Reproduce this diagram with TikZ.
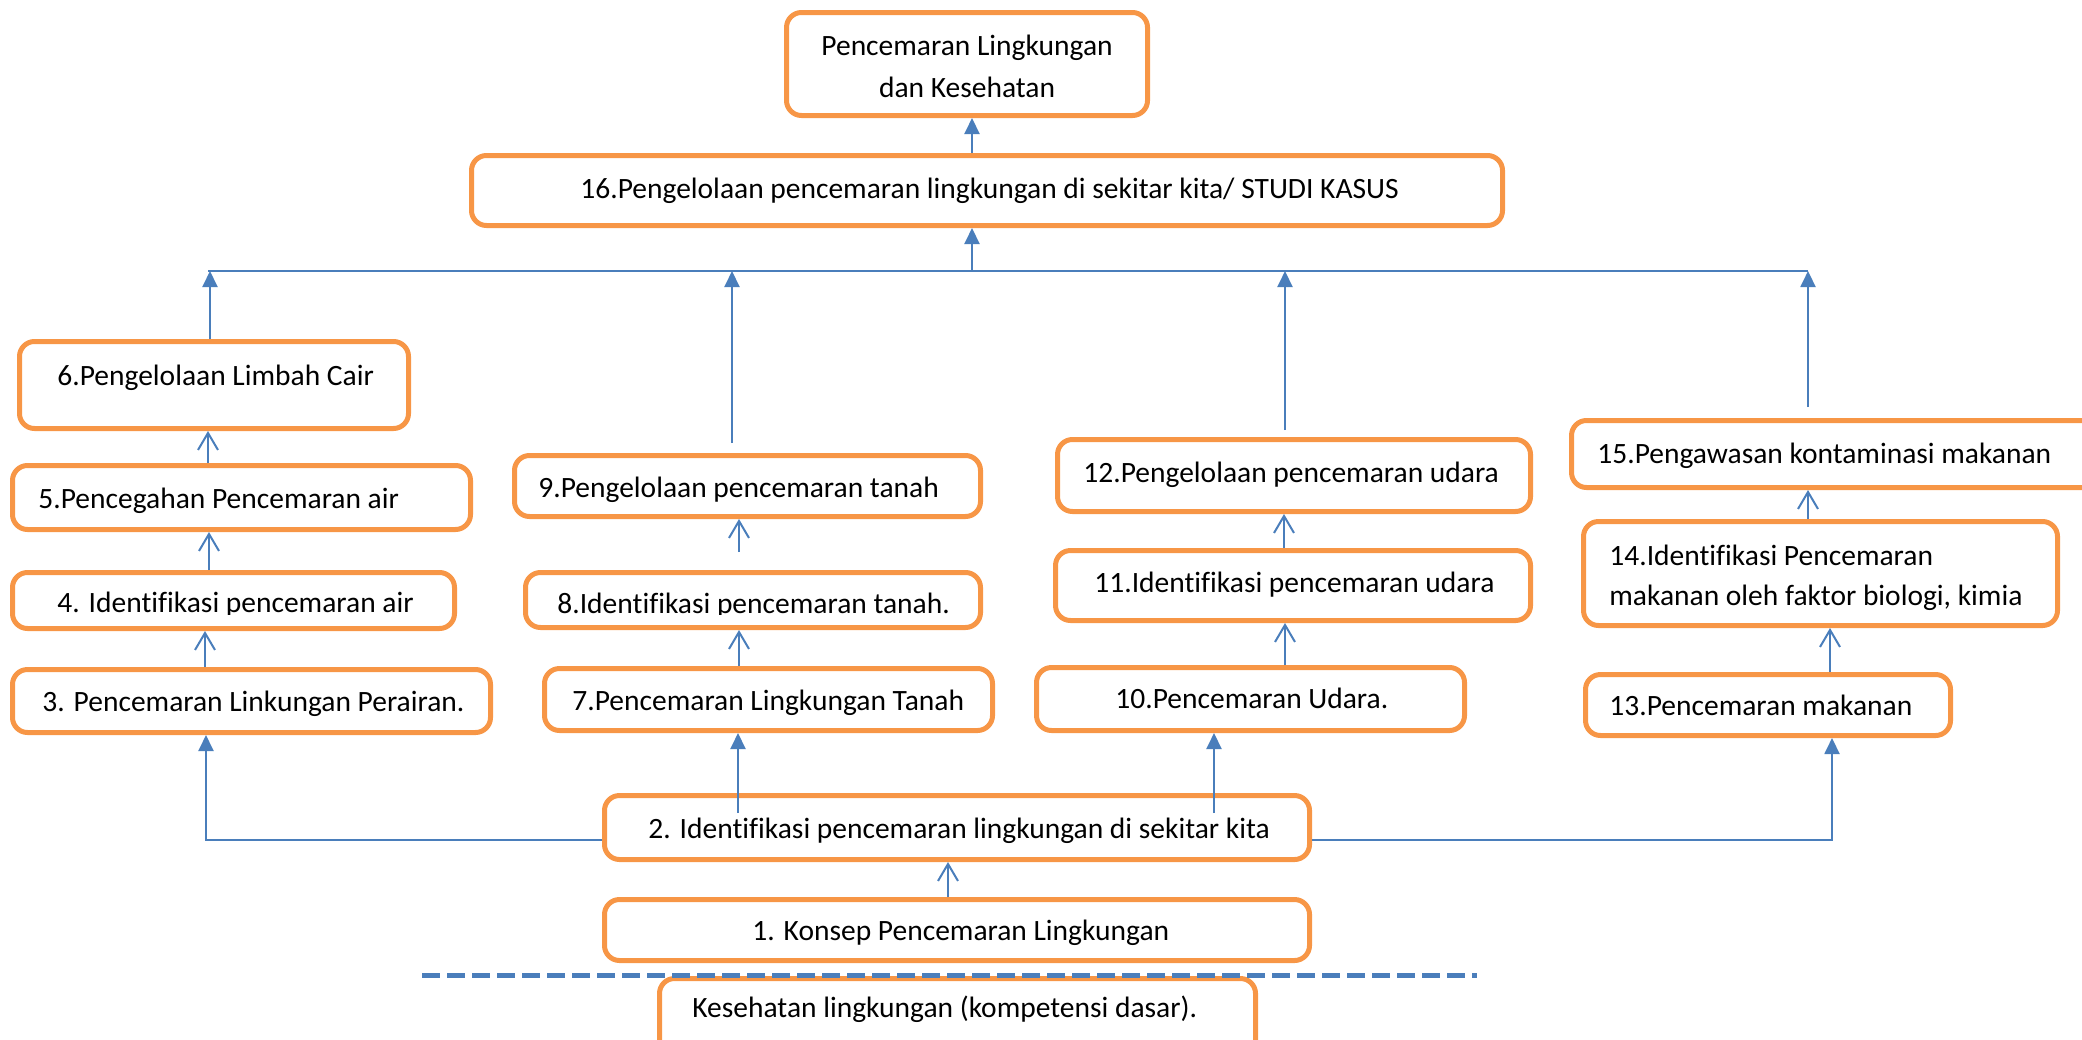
\documentclass[tikz,border=0pt]{standalone}
\usepackage{fontspec}
\setmainfont[Ligatures=NoCommon]{Carlito}
\usetikzlibrary{arrows.meta}
\definecolor{orng}{HTML}{F79646}
\definecolor{blu}{HTML}{4A7EBB}
\newcommand\mainfs{\fontsize{14.75pt}{17.8pt}\selectfont}
\tikzset{
  box/.style={draw=orng, line width=2.5pt, rounded corners=7.5pt, inner sep=0pt, minimum width=#1},
  txt/.style={inner sep=0pt, anchor=base west, font=\mainfs},
  ctxt/.style={inner sep=0pt, anchor=base, font=\mainfs},
  conn/.style={draw=blu, line width=1pt},
  oarrow/.style={draw=blu, line width=1pt, -{Straight Barb[length=8.5pt,width=10pt]}},
  farrow/.style={draw=blu, line width=1pt, -{Triangle[length=8pt,width=7.5pt]}},
}
\begin{document}
\begin{tikzpicture}[x=0.5pt,y=-0.5pt]
\useasboundingbox (0,0) rectangle (2082,1039);
\clip (0,0) rectangle (2082,1039);

% boxes
\node[box=180.5pt, minimum height=51.5pt] (top) at (967,64) {};
\node[box=515.5pt, minimum height=35pt] (b16) at (987,190.5) {};
\node[box=194.5pt, minimum height=43.5pt] (b6) at (214,385) {};
\node[box=229pt, minimum height=32pt] (b5) at (241.5,497.5) {};
\node[box=221pt, minimum height=28pt] (b4) at (233.5,600.5) {};
\node[box=239pt, minimum height=31.5pt] (b3) at (251.5,701) {};
\node[box=233pt, minimum height=30.5pt] (b9) at (747.5,486) {};
\node[box=227.5pt, minimum height=27.5pt] (b8) at (753,600) {};
\node[box=224pt, minimum height=31pt] (b7) at (768.5,699.5) {};
\node[box=236.5pt, minimum height=36pt] (b12) at (1294,475.5) {};
\node[box=237.5pt, minimum height=35pt] (b11) at (1293,585.5) {};
\node[box=214pt, minimum height=31.5pt] (b10) at (1250.5,699) {};
\node[box=270.5pt, minimum height=33.5pt] (b15) at (1842,454) {};
\node[box=237pt, minimum height=52pt] (b14) at (1820.5,573.5) {};
\node[box=182.5pt, minimum height=30.5pt] (b13) at (1768,705) {};
\node[box=352.5pt, minimum height=32pt] (b2) at (957,827.5) {};
\node[box=352.5pt, minimum height=30.5pt] (b1) at (957,930) {};
\node[box=298pt, minimum height=49.5pt] (bK) at (957.5,1028) {};

% texts
\node[ctxt] (t0a) at (967,55) {Pencemaran Lingkungan};
\node[ctxt] (t0b) at (967,97) {dan Kesehatan};
\node[txt] (t16) at (580,198) {16.Pengelolaan pencemaran lingkungan di sekitar kita/ STUDI KASUS};
\node[txt] (t6) at (57,385) {6.Pengelolaan Limbah Cair};
\node[txt] (t5) at (38,508) {5.Pencegahan Pencemaran air};
\begin{scope}
\clip (0,560) rectangle (1000,614);
\node[txt] (t4) at (57,612) {4. Identifikasi pencemaran air};
\node[txt] (t8) at (557,613) {8.Identifikasi pencemaran tanah.};
\end{scope}
\node[txt] (t3) at (42,711) {3. Pencemaran Linkungan Perairan.};
\node[txt] (t9) at (538,497) {9.Pengelolaan pencemaran tanah};
\node[txt] (t7) at (572,710) {7.Pencemaran Lingkungan Tanah};
\node[txt] (t12) at (1083,482) {12.Pengelolaan pencemaran udara};
\node[txt] (t11) at (1094,592) {11.Identifikasi pencemaran udara};
\node[txt] (t10) at (1115,708) {10.Pencemaran Udara.};
\node[txt] (t15) at (1597,463) {15.Pengawasan kontaminasi makanan};
\node[txt] (t14a) at (1609,565) {14.Identifikasi Pencemaran};
\node[txt] (t14b) at (1609,605) {makanan oleh faktor biologi, kimia};
\node[txt] (t13) at (1609,715) {13.Pencemaran makanan};
\node[txt] (t2) at (648,838) {2. Identifikasi pencemaran lingkungan di sekitar kita};
\node[txt] (t1) at (752,940) {1. Konsep Pencemaran Lingkungan};
\node[txt] (tK) at (692,1017) {Kesehatan lingkungan (kompetensi dasar).};

% coordinates
\coordinate (hL) at (208,271);
\coordinate (h6) at (210,271);
\coordinate (h9) at (732,271);
\coordinate (hc) at (972,271);
\coordinate (h12) at (1285,271);
\coordinate (h15) at (1808,271);
\coordinate (s9) at (732,443);
\coordinate (s12) at (1285,430);
\coordinate (s15) at (1808,407);
\coordinate (s8) at (739,552);
\coordinate (lL) at (206,840);
\coordinate (lR) at (1832,840);
\coordinate (u7) at (738,813);
\coordinate (u10) at (1214,813);

% top connectors
\draw[conn] (hL) -- (h15);
\draw[farrow] (b6.north -| h6) -- (h6);
\draw[farrow] (s9) -- (h9);
\draw[farrow] (s12) -- (h12);
\draw[farrow] (s15) -- (h15);
\draw[farrow] (hc) -- (hc |- b16.south);
\draw[farrow] (b16.north -| hc) -- (hc |- top.south);

% column arrows
\draw[oarrow] (b5.north -| 208,0) -- (b6.south -| 208,0);
\draw[oarrow] (b4.north -| 209,0) -- (b5.south -| 209,0);
\draw[oarrow] (b3.north -| 205,0) -- (b4.south -| 205,0);
\draw[oarrow] (s8) -- (s8 |- b9.south);
\draw[oarrow] (b7.north -| s8) -- (b8.south -| s8);
\draw[oarrow] (b11.north -| 1284,0) -- (b12.south -| 1284,0);
\draw[oarrow] (b10.north -| 1285,0) -- (b11.south -| 1285,0);
\draw[oarrow] (b14.north -| 1808,0) -- (b15.south -| 1808,0);
\draw[oarrow] (b13.north -| 1830,0) -- (b14.south -| 1830,0);
\draw[oarrow] (b1.north -| 948,0) -- (b2.south -| 948,0);

% from box 2
\draw[farrow] (b2.west |- lL) -- (lL) -- (lL |- b3.south);
\draw[farrow] (b2.east |- lR) -- (lR) -- (lR |- b13.south);
\draw[farrow] (u7) -- (u7 |- b7.south);
\draw[farrow] (u10) -- (u10 |- b10.south);

% dashed line
\coordinate (dA) at (422,975);
\coordinate (dB) at (1477,975);
\draw[draw=blu, line width=2.5pt, dash pattern=on 9pt off 3.5pt] (dA) -- (dB);
\end{tikzpicture}
\end{document}
